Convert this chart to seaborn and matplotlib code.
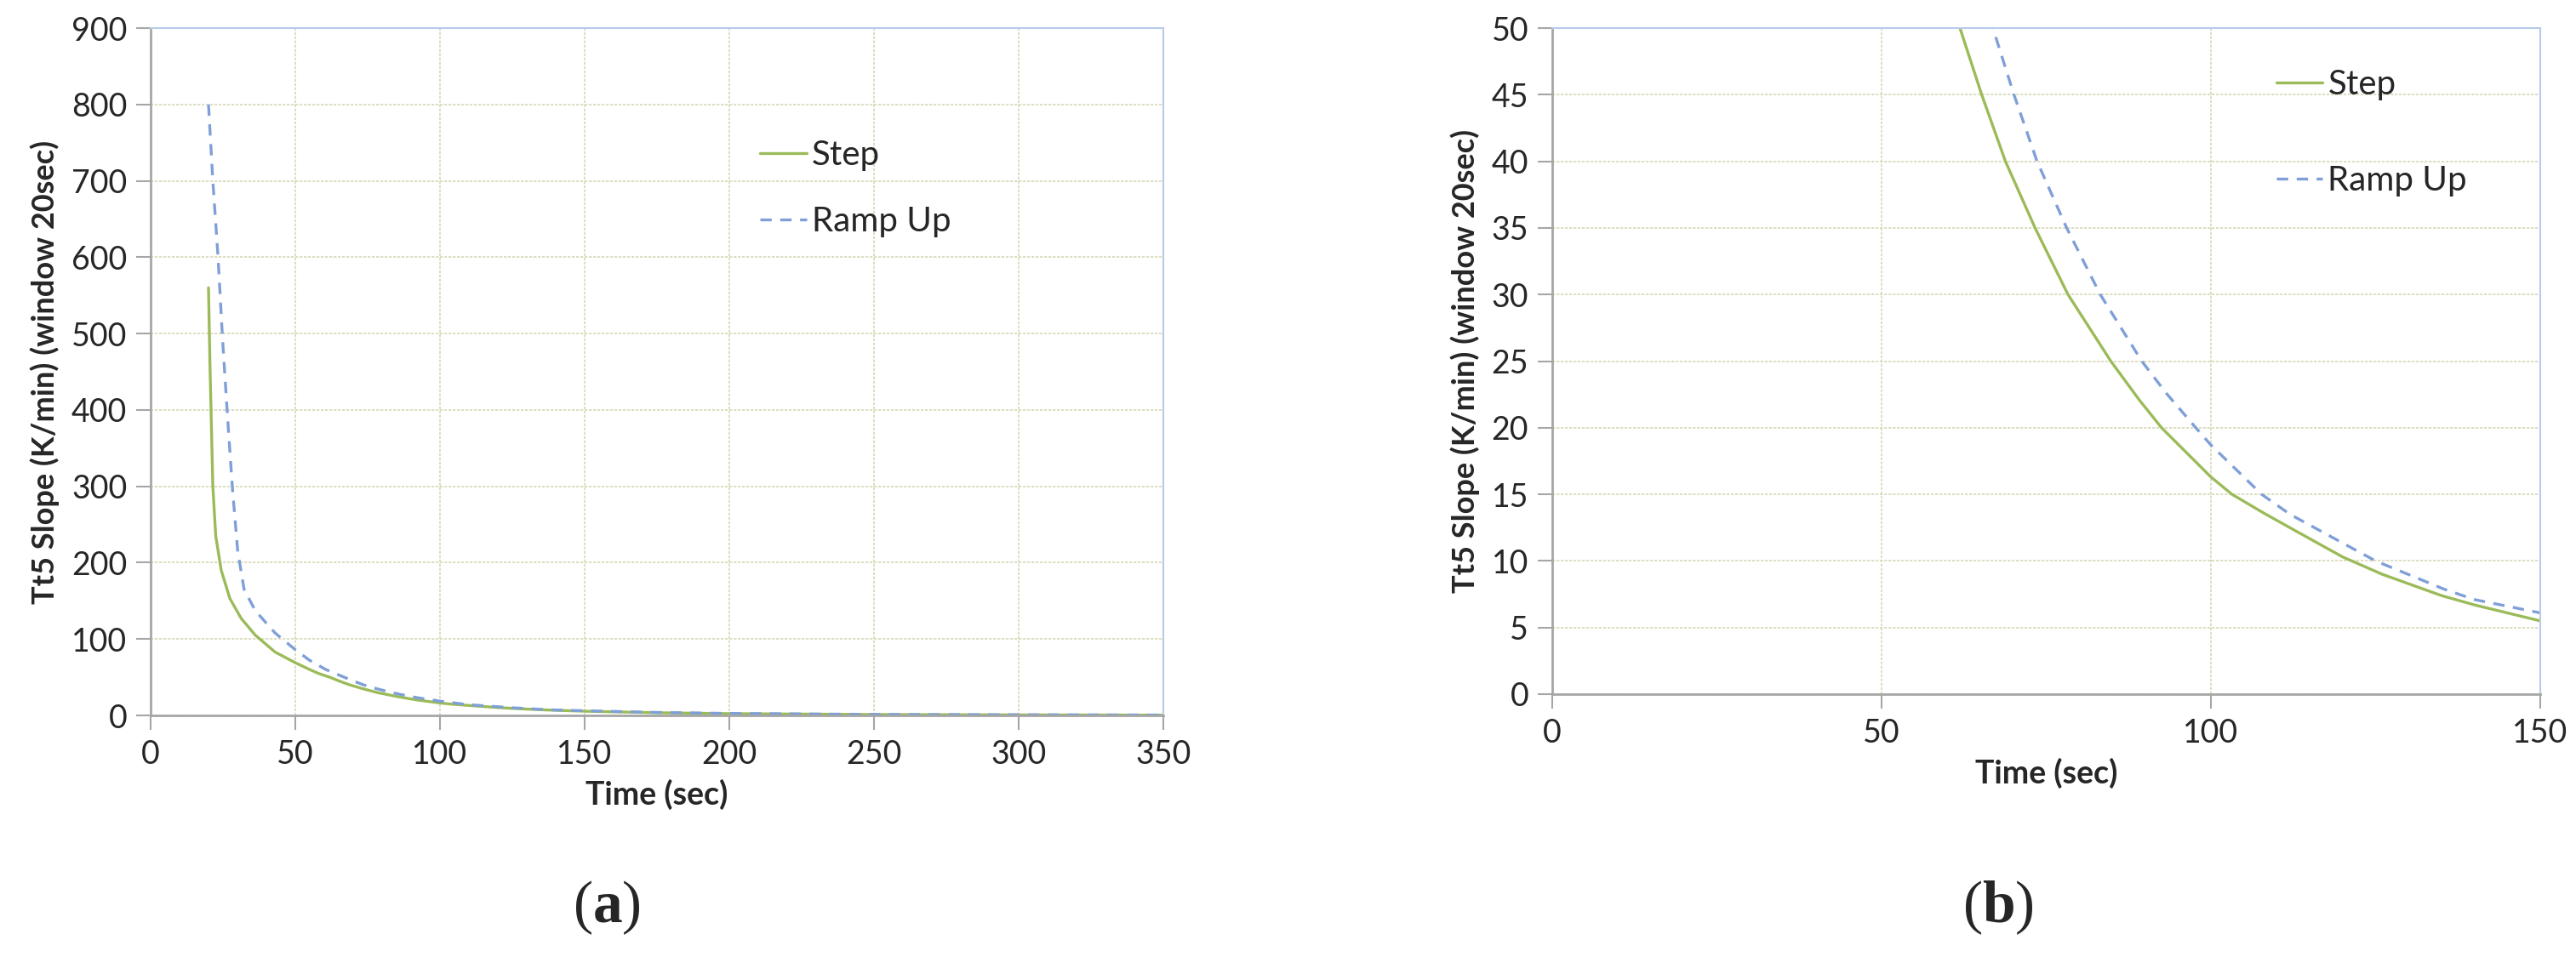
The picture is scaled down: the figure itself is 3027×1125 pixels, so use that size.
import numpy as np
import pandas as pd
import matplotlib
matplotlib.use("Agg")
import matplotlib.pyplot as plt
import seaborn as sns

# Step response curve (time in sec, Tt5 slope in K/min)
step_time = [20, 20.5, 21, 21.5, 22.5, 24.4, 27.4, 31.3, 36.2, 43, 50, 55, 58,
             61.9, 65.2, 68.8, 73.3, 78.3, 84.8, 89.1, 92.5, 100, 103.2, 108, 112.7,
             120, 126, 135, 140, 150, 175, 200, 250, 300, 350]
step_slope = [560, 460, 380, 300, 235, 190, 153, 127, 105, 83, 69, 60, 55,
              50, 45, 40, 35, 30, 25, 22.1, 20, 16.3, 15, 13.6, 12.3,
              10.3, 9.0, 7.4, 6.7, 5.5, 3.5, 2.3, 1.2, 0.7, 0.4]

# Ramp up curve
ramp_time = [20, 21.5, 23.3, 24.9, 26.6, 28.3, 30.1, 32.3, 36.2, 43, 50, 55, 60.6,
             66.9, 70.1, 73.6, 78.1, 83.2, 89.5, 93.2, 97.7, 100, 107.7, 112, 117.2,
             125, 135.3, 140, 150, 175, 200, 250, 300, 350]
ramp_slope = [800, 700, 600, 490, 390, 296, 215, 165, 137, 108, 86, 72, 60,
              50, 45, 40, 35, 30, 25, 22.6, 20, 18.7, 15, 13.5, 12.1,
              10, 7.9, 7.1, 6.1, 3.9, 2.6, 1.3, 0.8, 0.5]

step_color = "#9bbb59"
ramp_color = "#7f9fd8"
grid_color = "#d8d8b8"

sns.set_style("white")
plt.rcParams["font.family"] = ["Lato", "DejaVu Sans"]
plt.rcParams["mathtext.fontset"] = "custom"
plt.rcParams["mathtext.rm"] = "Liberation Serif"
plt.rcParams["mathtext.it"] = "Liberation Serif"
plt.rcParams["mathtext.bf"] = "Liberation Serif:bold"

fig = plt.figure(figsize=(30.27, 11.25), dpi=100)
ax1 = fig.add_axes([177 / 3027, 1 - 841 / 1125, 1190 / 3027, 808 / 1125])
ax2 = fig.add_axes([1824 / 3027, 1 - 816 / 1125, 1161 / 3027, 783 / 1125])


def draw_panel(ax, xlim, xticks, ylim, yticks, leg_xy, leg_spacing):
    sns.lineplot(x=step_time, y=step_slope, ax=ax, color=step_color, lw=2.4,
                 label="Step", sort=False)
    sns.lineplot(x=ramp_time, y=ramp_slope, ax=ax, color=ramp_color, lw=2.4,
                 linestyle=(0, (4, 3)), label="Ramp Up", sort=False)
    ax.set_xlim(*xlim)
    ax.set_ylim(*ylim)
    ax.set_xticks(xticks)
    ax.set_yticks(yticks)
    ax.grid(True, color=grid_color, linestyle=(0, (2, 1)), lw=1.2)
    ax.tick_params(axis="both", labelsize=27, length=12, width=1.5,
                   color="#a6a6a6", direction="out", pad=8, bottom=True, left=True)
    for side in ["left", "bottom"]:
        ax.spines[side].set_color("#a6a6a6")
        ax.spines[side].set_linewidth(2)
    for side in ["top", "right"]:
        ax.spines[side].set_color("#b8cbe8")
        ax.spines[side].set_linewidth(1.5)
    ax.set_xlabel("Time (sec)", fontsize=27, fontweight="bold", labelpad=8)
    ax.set_ylabel("Tt5 Slope (K/min) (window 20sec)", fontsize=26,
                  fontweight="bold", labelpad=10)
    ax.legend(loc="center left", bbox_to_anchor=leg_xy, frameon=False,
              fontsize=29, handlelength=1.35, handletextpad=0.15,
              labelspacing=leg_spacing, borderpad=0, borderaxespad=0)


draw_panel(ax1, (0, 350), np.arange(0, 351, 50), (0, 900), np.arange(0, 901, 100),
           (0.602, 0.767), 1.02)
draw_panel(ax2, (0, 150), [0, 50, 100, 150], (0, 50), np.arange(0, 51, 5),
           (0.733, 0.843), 1.89)

fig.text(713 / 3027, 1 - 1067 / 1125, r"$\mathrm{(}\mathbf{a}\mathrm{)}$", fontsize=50,
         ha="center", va="center")
fig.text(2348 / 3027, 1 - 1067 / 1125, r"$\mathrm{(}\mathbf{b}\mathrm{)}$", fontsize=50,
         ha="center", va="center")

fig.savefig("out.png", dpi=100, facecolor="white")
